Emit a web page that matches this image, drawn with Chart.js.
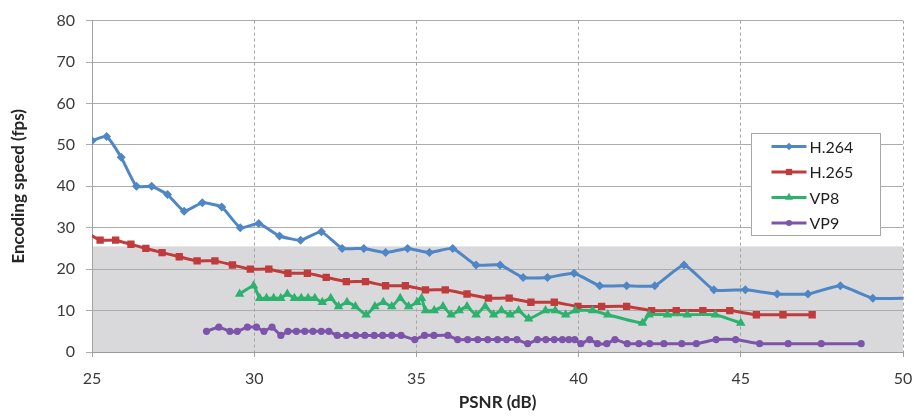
<!DOCTYPE html>
<html>
<head>
<meta charset="utf-8">
<script src="https://cdn.jsdelivr.net/npm/chart.js@4/dist/chart.umd.min.js"></script>
<style>
  html, body { margin: 0; padding: 0; background: #ffffff; }
  #wrap { width: 914px; height: 417px; position: relative; }
</style>
</head>
<body>
<div id="wrap"><canvas id="chart" width="914" height="417"></canvas></div>
<script>
// Encoding speed versus PSNR for four codecs
const seriesNames = ['H.264', 'H.265', 'VP8', 'VP9'];

const h264Psnr = [25.0, 25.45, 25.9, 26.37, 26.84, 27.33, 27.84, 28.4, 29.0, 29.57,
  30.14, 30.78, 31.43, 32.07, 32.71, 33.38, 34.05, 34.73, 35.4, 36.12,
  36.84, 37.58, 38.29, 39.04, 39.86, 40.65, 41.48, 42.35, 43.25, 44.17,
  45.14, 46.12, 47.07, 48.07, 49.07, 50.2];
const h264Fps = [51, 52, 47, 40, 40, 38, 34, 36, 35, 30,
  31, 28, 27, 29, 25, 25, 24, 25, 24, 25,
  21, 21, 18, 18, 19, 16, 16, 16, 21, 15,
  15, 14, 14, 16, 13, 13];

const h265Psnr = [24.8, 25.25, 25.73, 26.2, 26.66, 27.16, 27.69, 28.24, 28.79, 29.33,
  29.88, 30.45, 31.04, 31.64, 32.22, 32.84, 33.43, 34.05, 34.66, 35.28,
  35.89, 36.56, 37.22, 37.86, 38.53, 39.25, 39.98, 40.71, 41.48, 42.25,
  43.01, 43.83, 44.66, 45.48, 46.3, 47.2];
const h265Fps = [29, 27, 27, 26, 25, 24, 23, 22, 22, 21,
  20, 20, 19, 19, 18, 17, 17, 16, 16, 15,
  15, 14, 13, 13, 12, 12, 11, 11, 11, 10,
  10, 10, 10, 9, 9, 9];

const vp8Psnr = [29.55, 29.98, 30.17, 30.38, 30.6, 30.82, 31.02, 31.24, 31.45, 31.66,
  31.87, 32.1, 32.36, 32.6, 32.86, 33.12, 33.45, 33.72, 33.98, 34.24,
  34.5, 34.76, 35.02, 35.16, 35.28, 35.55, 35.82, 36.07, 36.32, 36.56,
  36.84, 37.12, 37.38, 37.62, 37.89, 38.15, 38.46, 38.98, 39.28, 39.6,
  39.9, 40.43, 40.9, 41.97, 42.17, 42.74, 43.35, 44.22, 45.0];
const vp8Fps = [14, 16, 13, 13, 13, 13, 14, 13, 13, 13,
  13, 12, 13, 11, 12, 11, 9, 11, 12, 11,
  13, 11, 12, 13, 10, 10, 11, 9, 10, 11,
  9, 11, 9, 10, 9, 10, 8, 10, 10, 9,
  10, 10, 9, 7, 9, 9, 9, 9, 7];

const vp9Psnr = [28.53, 28.91, 29.25, 29.48, 29.79, 30.07, 30.3, 30.55, 30.82, 31.04,
  31.3, 31.56, 31.81, 32.07, 32.3, 32.56, 32.84, 33.13, 33.41, 33.7,
  33.96, 34.24, 34.53, 34.95, 35.25, 35.54, 35.97, 36.27, 36.58, 36.89,
  37.2, 37.5, 37.78, 38.1, 38.43, 38.73, 38.99, 39.25, 39.5, 39.7,
  39.88, 40.07, 40.34, 40.58, 40.87, 41.12, 41.5, 41.86, 42.19, 42.63,
  43.18, 43.63, 44.24, 44.84, 45.58, 46.46, 47.48, 48.71];
const vp9Fps = [5, 6, 5, 5, 6, 6, 5, 6, 4, 5,
  5, 5, 5, 5, 5, 4, 4, 4, 4, 4,
  4, 4, 4, 3, 4, 4, 4, 3, 3, 3,
  3, 3, 3, 3, 2, 3, 3, 3, 3, 3,
  3, 2, 3, 2, 2, 3, 2, 2, 2, 2,
  2, 2, 3, 3, 2, 2, 2, 2];

// Axis ranges and tick steps
const xRange = [25, 50];
const xStep = 5;
const yRange = [0, 80];
const yStep = 10;
// Upper bound (fps) of the shaded real-time band
const shadedUpTo = 25.5;

const FONT = 'Lato, "Liberation Sans", Arial, sans-serif';

function toPoints(xs, ys) {
  return xs.map((x, i) => ({ x: x, y: ys[i] }));
}

const styles = [
  { color: '#4f86c6', pointStyle: 'rectRot', radius: 4.5 },
  { color: '#c03b3b', pointStyle: 'rect', radius: 5.2 },
  { color: '#2cb26e', pointStyle: 'triangle', radius: 5.5 },
  { color: '#7c55ab', pointStyle: 'circle', radius: 3.6 }
];

const seriesData = [
  toPoints(h264Psnr, h264Fps),
  toPoints(h265Psnr, h265Fps),
  toPoints(vp8Psnr, vp8Fps),
  toPoints(vp9Psnr, vp9Fps)
];

const datasets = seriesNames.map((name, i) => ({
  label: name,
  data: seriesData[i],
  borderColor: styles[i].color,
  backgroundColor: styles[i].color,
  borderWidth: 3,
  tension: 0.15,
  pointStyle: styles[i].pointStyle,
  pointRadius: styles[i].radius,
  pointBorderWidth: 0,
  pointBackgroundColor: styles[i].color,
  order: 4 - i
}));

// Grey band behind the grid
const bandPlugin = {
  id: 'band',
  beforeDraw(chart) {
    const { ctx, chartArea, scales } = chart;
    const top = scales.y.getPixelForValue(shadedUpTo);
    const bottom = scales.y.getPixelForValue(yRange[0]);
    ctx.save();
    ctx.fillStyle = '#d9d9db';
    ctx.fillRect(chartArea.left, top, chartArea.right - chartArea.left, bottom - top);
    ctx.restore();
  }
};

// Boxed legend inside the plot, with line + marker samples
const boxLegendPlugin = {
  id: 'boxLegend',
  afterDraw(chart) {
    const { ctx } = chart;
    const bx = 751.5, by = 133.5, bw = 129, bh = 102;
    ctx.save();
    ctx.fillStyle = '#ffffff';
    ctx.fillRect(bx, by, bw, bh);
    ctx.strokeStyle = '#a6a6a6';
    ctx.lineWidth = 1;
    ctx.strokeRect(bx, by, bw, bh);
    const rowY0 = by + 13, rowGap = 25.5;
    chart.data.datasets.forEach((ds, i) => {
      const y = rowY0 + i * rowGap;
      ctx.strokeStyle = ds.borderColor;
      ctx.lineWidth = 3;
      ctx.beginPath();
      ctx.moveTo(bx + 20, y);
      ctx.lineTo(bx + 55, y);
      ctx.stroke();
      ctx.fillStyle = ds.borderColor;
      Chart.helpers.drawPoint(ctx, {
        pointStyle: ds.pointStyle,
        radius: ds.pointRadius * 0.85,
        rotation: 0,
        borderWidth: 0
      }, bx + 37.5, y);
      ctx.fillStyle = '#1f1f1f';
      ctx.font = '16px ' + FONT;
      ctx.textBaseline = 'middle';
      ctx.textAlign = 'left';
      ctx.fillText(ds.label, bx + 58, y + 1);
    });
    ctx.restore();
  }
};

new Chart(document.getElementById('chart'), {
  type: 'line',
  data: { datasets: datasets },
  plugins: [bandPlugin, boxLegendPlugin],
  options: {
    responsive: false,
    animation: false,
    layout: { padding: { left: 0, right: 0, top: 17, bottom: 0 } },
    plugins: {
      legend: { display: false },
      tooltip: { enabled: false }
    },
    scales: {
      x: {
        type: 'linear',
        min: xRange[0],
        max: xRange[1],
        afterFit(scale) {
          scale.height = 65;
          scale.paddingLeft = 0;
          scale.paddingRight = 11;
        },
        ticks: {
          stepSize: xStep,
          color: '#3a3a3a',
          font: { family: FONT, size: 16 },
          padding: 12,
          maxRotation: 0
        },
        grid: {
          color: (c) => (c.index === 0 ? 'rgba(0,0,0,0)' : '#a3a3a3'),
          lineWidth: 1,
          tickLength: 5,
          tickColor: '#a3a3a3',
          tickBorderDash: []
        },
        border: { display: true, color: '#9a9a9a', width: 1, dash: [3, 3] },
        title: {
          display: true,
          text: 'PSNR (dB)',
          color: '#262626',
          font: { family: FONT, size: 17, weight: 'bold' },
          padding: { top: 0, bottom: 4 }
        }
      },
      y: {
        min: yRange[0],
        max: yRange[1],
        afterFit(scale) { scale.width = 92; },
        ticks: {
          stepSize: yStep,
          color: '#3a3a3a',
          font: { family: FONT, size: 16 },
          padding: 11
        },
        grid: {
          color: '#acacac',
          lineWidth: 1,
          tickLength: 6,
          tickColor: '#acacac'
        },
        border: { display: true, color: '#a3a3a3', width: 1 },
        title: {
          display: true,
          text: 'Encoding speed (fps)',
          color: '#262626',
          font: { family: FONT, size: 17, weight: 'bold' },
          padding: { top: 8, bottom: 0 }
        }
      }
    }
  }
});
</script>
</body>
</html>
